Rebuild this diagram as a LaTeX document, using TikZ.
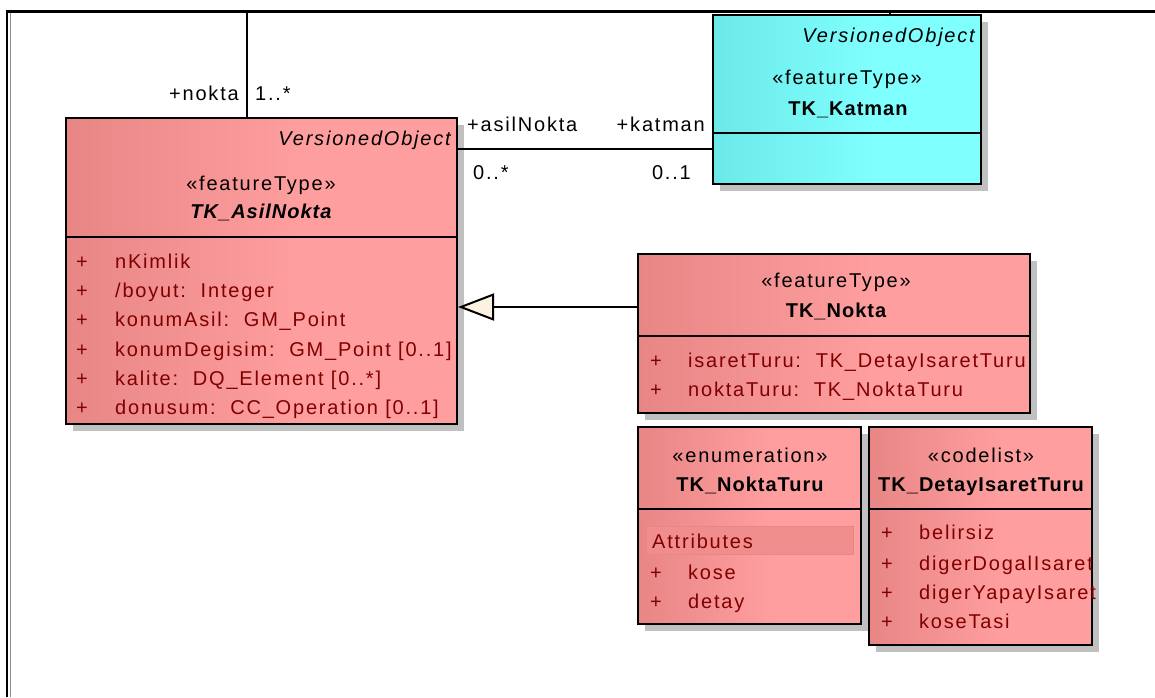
\documentclass[tikz,border=0pt]{standalone}
\usepackage{fontspec}
\setmainfont{Liberation Sans}[LetterSpace=9, BoldFeatures={LetterSpace=5}, BoldItalicFeatures={LetterSpace=5}]
\usetikzlibrary{arrows.meta, shadows}

\definecolor{pinkL}{RGB}{232,134,134}
\definecolor{pinkR}{RGB}{255,158,158}
\definecolor{cyanL}{RGB}{108,232,232}
\definecolor{cyanR}{RGB}{128,255,255}
\definecolor{attrred}{RGB}{128,0,0}
\definecolor{shadowgrey}{RGB}{192,192,192}
\definecolor{cream}{RGB}{252,242,226}
\definecolor{bandpink}{RGB}{240,142,142}
\definecolor{bandedge}{RGB}{236,132,132}
\definecolor{framegrey}{RGB}{140,140,140}

% class fills: darker at the left edge, brightening towards the right
\pgfdeclarehorizontalshading{pinkshade}{100bp}{color(0bp)=(pinkL); color(25bp)=(pinkL); color(55bp)=(pinkR); color(100bp)=(pinkR)}
\pgfdeclarehorizontalshading{cyanshade}{100bp}{color(0bp)=(cyanL); color(25bp)=(cyanL); color(55bp)=(cyanR); color(100bp)=(cyanR)}

\tikzset{
  cls/.style={draw=black, line width=2pt, rectangle, inner sep=0pt, anchor=north west,
    drop shadow={opacity=1, fill=shadowgrey, shadow xshift=7pt, shadow yshift=-7pt}},
  pinkcls/.style={cls, shading=pinkshade},
  cyancls/.style={cls, shading=cyanshade},
  txt/.style={inner sep=0pt, font=\fontsize{20}{24}\selectfont},
  title/.style={txt, anchor=base},
  attr/.style={txt, text=attrred, anchor=base west},
  role/.style={txt},
  wire/.style={line width=2pt, draw=black},
  divider/.style={line width=2pt, draw=black},
}

\begin{document}
\begin{tikzpicture}[x=1pt, y=-1pt]
\useasboundingbox (0,0) rectangle (1155,697);

% diagram frame
\draw[line width=2.5pt] (7.2,697) -- (7.2,11.3) -- (1155,11.3);
\draw[framegrey, line width=1.3pt] (10.3,13) -- (10.3,697);

% ---------- TK_AsilNokta ----------
\node[pinkcls, minimum width=391pt, minimum height=306pt] (asil) at (65,117) {};
\draw[divider] (asil.west |- 0,237) -- (asil.east |- 0,237);
\node[txt, anchor=base east, font=\fontsize{20}{24}\selectfont\itshape] (asilpar) at (451,145) {VersionedObject};
\node[title] (asilst) at (261,190) {«featureType»};
\node[title, font=\fontsize{20}{24}\selectfont\bfseries\itshape] (asilname) at (261,218) {TK\_AsilNokta};
\node[attr] (ap1) at (76,268) {+};  \node[attr] (a1) at (115,268) {nKimlik};
\node[attr] (ap2) at (76,297) {+};  \node[attr] (a2) at (115,297) {/boyut:~~Integer};
\node[attr] (ap3) at (76,326) {+};  \node[attr] (a3) at (115,326) {konumAsil:~~GM\_Point};
\node[attr] (ap4) at (76,356) {+};  \node[attr] (a4) at (115,356) {konumDegisim:~~GM\_Point [0..1]};
\node[attr] (ap5) at (76,385) {+};  \node[attr] (a5) at (115,385) {kalite:~~DQ\_Element [0..*]};
\node[attr] (ap6) at (76,414) {+};  \node[attr] (a6) at (115,414) {donusum:~~CC\_Operation [0..1]};

% ---------- TK_Katman ----------
\node[cyancls, minimum width=268pt, minimum height=169pt] (katman) at (712,14) {};
\draw[divider] (katman.west |- 0,133) -- (katman.east |- 0,133);
\node[txt, anchor=base east, font=\fontsize{20}{24}\selectfont\itshape] (katpar) at (975,42) {VersionedObject};
\node[title] (katst) at (847,84) {«featureType»};
\node[title, font=\fontsize{20}{24}\selectfont\bfseries] (katname) at (848,115) {TK\_Katman};

% ---------- TK_Nokta ----------
\node[pinkcls, minimum width=392pt, minimum height=159pt] (nokta) at (637,253) {};
\draw[divider] (nokta.west |- 0,336) -- (nokta.east |- 0,336);
\node[title] (nokst) at (836,287) {«featureType»};
\node[title, font=\fontsize{20}{24}\selectfont\bfseries] (nokname) at (836,317) {TK\_Nokta};
\node[attr] (np1) at (650,367) {+};  \node[attr] (n1) at (688,367) {isaretTuru:~~TK\_DetayIsaretTuru};
\node[attr] (np2) at (650,396) {+};  \node[attr] (n2) at (688,396) {noktaTuru:~~TK\_NoktaTuru};

% ---------- TK_NoktaTuru ----------
\node[pinkcls, minimum width=223pt, minimum height=197pt] (nturu) at (637,426) {};
\draw[divider] (nturu.west |- 0,509) -- (nturu.east |- 0,509);
\node[title] (ntst) at (750,462) {«enumeration»};
\node[title, font=\fontsize{20}{24}\selectfont\bfseries] (ntname) at (750,491) {TK\_NoktaTuru};
\node[fill=bandpink, draw=bandedge, line width=1pt, inner sep=0pt, anchor=north west,
      minimum width=207pt, minimum height=28pt] (ntband) at (646,526) {};
\node[attr] (nthead) at (652,548) {Attributes};
\node[attr] (tp1) at (650,579) {+};  \node[attr] (t1) at (688,579) {kose};
\node[attr] (tp2) at (650,608) {+};  \node[attr] (t2) at (688,608) {detay};

% ---------- TK_DetayIsaretTuru ----------
\node[pinkcls, minimum width=223pt, minimum height=218pt] (detay) at (868,426) {};
\draw[divider] (detay.west |- 0,509) -- (detay.east |- 0,509);
\node[title] (dtst) at (981,462) {«codelist»};
\node[title, font=\fontsize{20}{24}\selectfont\bfseries] (dtname) at (981,491) {TK\_DetayIsaretTuru};
\node[attr] (dp1) at (881,539) {+};  \node[attr] (d1) at (919,539) {belirsiz};
\node[attr] (dp2) at (881,570) {+};  \node[attr] (d2) at (919,570) {digerDogalIsaret};
\node[attr] (dp3) at (881,599) {+};  \node[attr] (d3) at (919,599) {digerYapayIsaret};
\node[attr] (dp4) at (881,628) {+};  \node[attr] (d4) at (919,628) {koseTasi};

% ---------- connectors ----------
% nokta association leaving the frame at the top
\coordinate (noktaout) at (246.5,11.3);
\draw[wire] (asil.north -| noktaout) -- (noktaout);
\node[role, anchor=base east] (rnokta) at (239,100) {+nokta};
\node[role, anchor=base west] (mnokta) at (255,100) {1..*};

% TK_Katman also reaches the frame top
\coordinate (katmanout) at (890,11.3);
\draw[wire] (katman.north -| katmanout) -- (katmanout);

% asilNokta -- katman association
\coordinate (assocrow) at (0,149.3);
\draw[wire] (asil.east |- assocrow) -- (katman.west |- assocrow);
\node[role, anchor=base west] (rasil) at (467,131) {+asilNokta};
\node[role, anchor=base east] (rkatman) at (705,131) {+katman};
\node[role, anchor=base west] (masil) at (473,179) {0..*};
\node[role, anchor=base east] (mkatman) at (691,179) {0..1};

% generalization TK_Nokta -> TK_AsilNokta
\coordinate (genrow) at (0,307);
\draw[wire, -{Triangle[length=36pt, width=27pt, fill=cream, line join=miter]}]
  (nokta.west |- genrow) -- (asil.east |- genrow);
\end{tikzpicture}
\end{document}
